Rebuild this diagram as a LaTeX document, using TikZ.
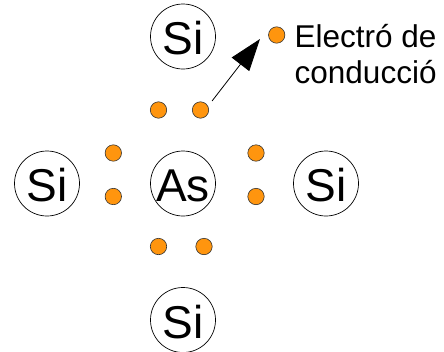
\documentclass[tikz,border=0pt]{standalone}
\usepackage{fontspec}
\setmainfont{Liberation Sans}
\usetikzlibrary{arrows.meta}
\tikzset{
  x=1pt,y=-1pt,
  atom/.style={circle,draw=black,line width=0.7pt,fill=white,minimum size=65pt,inner sep=0pt,text height=36pt,text depth=0pt,font=\fontsize{46}{46}\selectfont},
  electron/.style={circle,draw=black!80,line width=0.6pt,fill=orange!90!yellow,minimum size=16.4pt,inner sep=0pt},
  lbl/.style={anchor=base west,inner sep=0pt,font=\fontsize{31.5}{31.5}\selectfont}
}
\definecolor{dotorange}{HTML}{FF950E}
\begin{document}
\begin{tikzpicture}
\useasboundingbox (0,0) rectangle (444,351);
\node[atom] (top) at (183,36.5) {Si};
\node[atom] (left) at (47,183.5) {Si};
\node[atom] (center) at (183,183.5) {As};
\node[atom] (right) at (326,183.5) {Si};
\node[atom] (bottom) at (183,320) {Si};
\foreach \n/\p in {dA/{158.5,110},dB/{200.5,110},dC/{113.3,153},dD/{113.3,196.5},dE/{256,153},dF/{256,196.5},dG/{158.5,246.5},dH/{204,246.5},free/{276.7,35}}
  \node[electron,fill=dotorange] (\n) at (\p) {};
\coordinate (tip) at (260,39);
\draw[line width=0.8pt,shorten <=6.6pt,-{Triangle[length=32pt,width=22pt]}] (dB.27) -- (tip);
\node[lbl] (l1) at (294.5,47) {Electró de};
\node[lbl] (l2) at (294.5,83) {conducció};
\end{tikzpicture}
\end{document}
